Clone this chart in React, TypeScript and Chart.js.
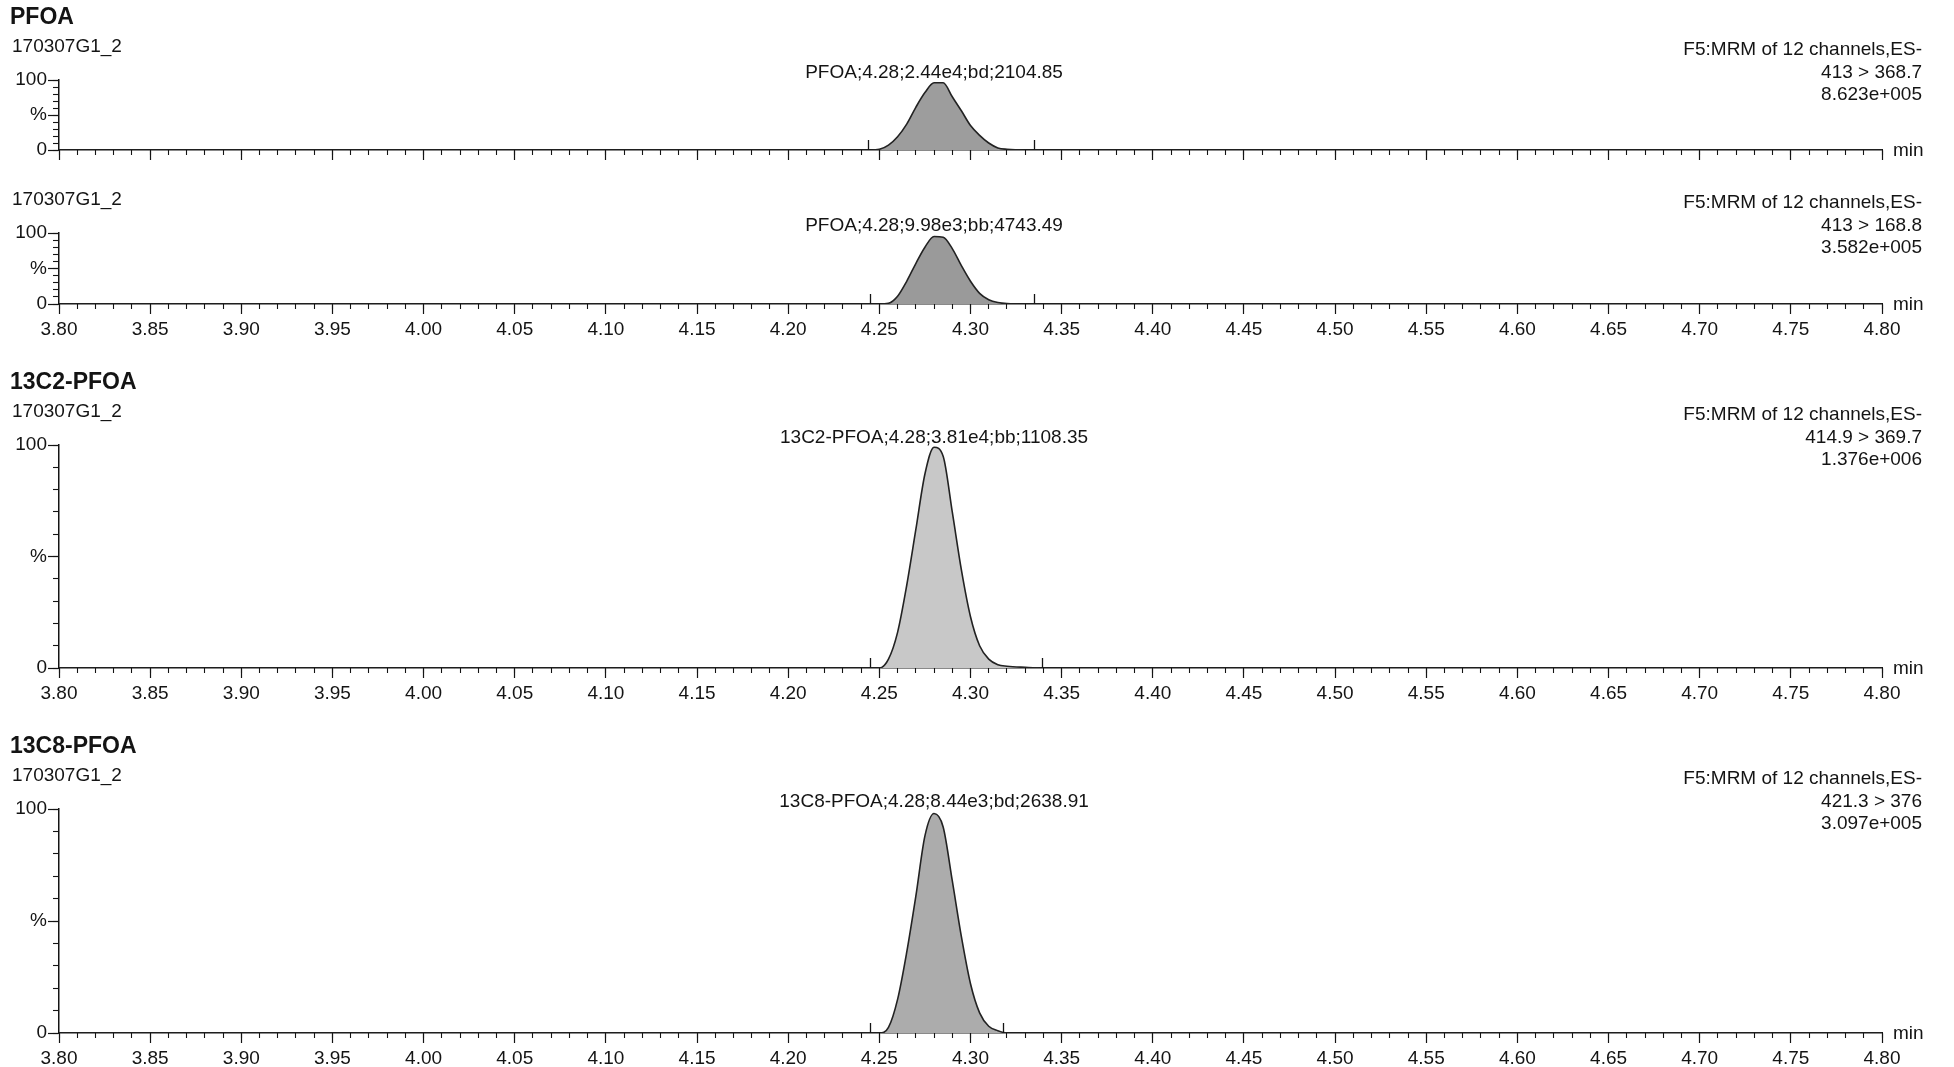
import React, { useEffect, useRef } from "react";
import { Chart, registerables } from "chart.js";

Chart.register(...registerables);

// ---------- data ----------
const X_MIN = 3.8;
const X_MAX = 4.8;
const MAJOR_STEP = 0.05;
const MINOR_STEP = 0.01;

const sampleName = "170307G1_2";
const infoHeader = "F5:MRM of 12 channels,ES-";

// Panel 1: PFOA 413 > 368.7
const pfoa1Times = [3.8, 4.245, 4.25, 4.255, 4.26, 4.265, 4.27, 4.275, 4.28, 4.285, 4.29, 4.295, 4.3, 4.305, 4.31, 4.315, 4.32, 4.33, 4.8];
const pfoa1Values = [0, 0, 1, 7, 19, 37, 61, 82, 96, 96, 76, 56, 35, 21, 10, 3, 1, 0, 0];
const pfoa1Markers = [4.244, 4.335];

// Panel 2: PFOA 413 > 168.8
const pfoa2Times = [3.8, 4.245, 4.25, 4.255, 4.26, 4.265, 4.27, 4.275, 4.28, 4.285, 4.29, 4.295, 4.3, 4.305, 4.31, 4.315, 4.32, 4.33, 4.8];
const pfoa2Values = [0, 0, 0, 1, 11, 32, 57, 80, 95, 94, 78, 54, 32, 15, 6, 2, 0.5, 0, 0];
const pfoa2Markers = [4.245, 4.335];

// Panel 3: 13C2-PFOA 414.9 > 369.7
const c2Times = [3.8, 4.245, 4.25, 4.255, 4.26, 4.265, 4.27, 4.275, 4.28, 4.285, 4.29, 4.295, 4.3, 4.305, 4.31, 4.315, 4.32, 4.33, 4.34, 4.8];
const c2Values = [0, 0, 0, 4, 16, 37, 62, 87, 99, 95, 70, 44, 23, 10, 4, 1.5, 0.8, 0.3, 0, 0];
const c2Markers = [4.245, 4.339];

// Panel 4: 13C8-PFOA 421.3 > 376
const c8Times = [3.8, 4.245, 4.25, 4.255, 4.26, 4.265, 4.27, 4.275, 4.28, 4.285, 4.29, 4.295, 4.3, 4.305, 4.31, 4.315, 4.32, 4.8];
const c8Values = [0, 0, 0, 2.5, 15, 36, 61, 88, 98, 92, 68, 43, 22, 9, 3, 1, 0, 0];
const c8Markers = [4.245, 4.318];

// ---------- styling ----------
const FONT = "'Liberation Sans', Arial, Helvetica, sans-serif";
const INK = "#141414";
const LEFT_W = 59;

type PanelCfg = {
  top: number;
  height: number;
  padTop: number;
  padBottom: number;
  title?: string;
  info: string[];
  peakLabel: string;
  peakTime: number;
  times: number[];
  values: number[];
  markers: number[];
  showXLabels: boolean;
  fill: string;
};

const panels: PanelCfg[] = [
  {
    top: 0, height: 172, padTop: 80, padBottom: 22,
    title: "PFOA",
    info: [infoHeader, "413 > 368.7", "8.623e+005"],
    peakLabel: "PFOA;4.28;2.44e4;bd;2104.85", peakTime: 4.28,
    times: pfoa1Times, values: pfoa1Values, markers: pfoa1Markers,
    showXLabels: false, fill: "#9d9d9d",
  },
  {
    top: 172, height: 170, padTop: 61, padBottom: 38,
    info: [infoHeader, "413 > 168.8", "3.582e+005"],
    peakLabel: "PFOA;4.28;9.98e3;bb;4743.49", peakTime: 4.28,
    times: pfoa2Times, values: pfoa2Values, markers: pfoa2Markers,
    showXLabels: true, fill: "#9a9a9a",
  },
  {
    top: 342, height: 365, padTop: 103, padBottom: 39,
    title: "13C2-PFOA",
    info: [infoHeader, "414.9 > 369.7", "1.376e+006"],
    peakLabel: "13C2-PFOA;4.28;3.81e4;bb;1108.35", peakTime: 4.28,
    times: c2Times, values: c2Values, markers: c2Markers,
    showXLabels: true, fill: "#c8c8c8",
  },
  {
    top: 707, height: 360, padTop: 102, padBottom: 34,
    title: "13C8-PFOA",
    info: [infoHeader, "421.3 > 376", "3.097e+005"],
    peakLabel: "13C8-PFOA;4.28;8.44e3;bd;2638.91", peakTime: 4.28,
    times: c8Times, values: c8Values, markers: c8Markers,
    showXLabels: true, fill: "#acacac",
  },
];

const panelTextPlugin = {
  id: "panelText",
  afterDraw(chart: any, _args: any, opts: any) {
    const ctx: CanvasRenderingContext2D = chart.ctx;
    const area = chart.chartArea;
    const xs = chart.scales.x;
    ctx.save();
    // integration markers
    ctx.strokeStyle = INK;
    ctx.lineWidth = 1.3;
    (opts.markers as number[]).forEach((t) => {
      const px = Math.round(xs.getPixelForValue(t)) + 0.5;
      ctx.beginPath();
      ctx.moveTo(px, area.bottom);
      ctx.lineTo(px, area.bottom - 10);
      ctx.stroke();
    });
    ctx.fillStyle = INK;
    ctx.textBaseline = "middle";
    if (opts.title) {
      ctx.font = `bold 23px ${FONT}`;
      ctx.textAlign = "left";
      ctx.fillText(opts.title, 10, area.top - 62);
    }
    ctx.font = `19px ${FONT}`;
    ctx.textAlign = "left";
    ctx.fillText(opts.sample, 12, area.top - 33);
    ctx.textAlign = "right";
    const infoY = [area.top - 30, area.top - 7.5, area.top + 15];
    (opts.info as string[]).forEach((s, i) => ctx.fillText(s, area.right + 40, infoY[i]));
    ctx.textAlign = "center";
    ctx.fillText(opts.peakLabel, xs.getPixelForValue(opts.peakTime), area.top - 7);
    ctx.textAlign = "left";
    ctx.fillText("min", area.right + 11, area.bottom + 1);
    ctx.restore();
  },
};

function Panel({ cfg }: { cfg: PanelCfg }) {
  const ref = useRef<HTMLCanvasElement>(null);
  useEffect(() => {
    const canvas = ref.current!;
    const data = cfg.times.map((t, i) => ({ x: t, y: cfg.values[i] }));
    const chart = new Chart(canvas, {
      type: "line",
      data: {
        datasets: [
          {
            data,
            xAxisID: "x",
            yAxisID: "y",
            borderColor: "#222222",
            borderWidth: 1.6,
            backgroundColor: cfg.fill,
            fill: "origin",
            pointRadius: 0,
            cubicInterpolationMode: "monotone",
          } as any,
        ],
      },
      options: {
        responsive: false,
        animation: false,
        events: [],
        layout: { padding: { left: 0, right: 72, top: cfg.padTop, bottom: 0 } },
        plugins: {
          legend: { display: false },
          tooltip: { enabled: false },
          title: { display: false },
          panelText: {
            title: cfg.title,
            sample: sampleName,
            info: cfg.info,
            peakLabel: cfg.peakLabel,
            peakTime: cfg.peakTime,
            markers: cfg.markers,
          },
        } as any,
        scales: {
          x: {
            type: "linear",
            position: "bottom",
            weight: 1,
            min: X_MIN,
            max: X_MAX,
            afterFit: (s: any) => { s.height = cfg.padBottom; },
            grid: { drawOnChartArea: false, drawTicks: true, tickLength: 10, tickColor: INK, tickWidth: 1.2 },
            border: { display: true, color: INK, width: 1.5 },
            ticks: {
              display: cfg.showXLabels,
              stepSize: MAJOR_STEP,
              autoSkip: false,
              maxRotation: 0,
              minRotation: 0,
              padding: 4,
              color: INK,
              font: { family: FONT, size: 19 },
              callback: (v: any) => Number(v).toFixed(2),
            },
          },
          xMinor: {
            type: "linear",
            position: "bottom",
            weight: 0,
            min: X_MIN,
            max: X_MAX,
            afterFit: (s: any) => { s.height = 0; },
            grid: { drawOnChartArea: false, drawTicks: true, tickLength: 5, tickColor: INK, tickWidth: 1.1 },
            border: { display: false },
            ticks: { display: false, stepSize: MINOR_STEP, autoSkip: false },
          },
          y: {
            type: "linear",
            position: "left",
            weight: 1,
            min: 0,
            max: 100,
            afterFit: (s: any) => { s.width = LEFT_W; },
            grid: { drawOnChartArea: false, drawTicks: true, tickLength: 11, tickColor: INK, tickWidth: 1.2 },
            border: { display: true, color: INK, width: 1.5 },
            ticks: {
              stepSize: 50,
              autoSkip: false,
              padding: 1,
              color: INK,
              font: { family: FONT, size: 19 },
              callback: (v: any) => (v === 100 ? "100" : v === 50 ? "%" : v === 0 ? "0" : ""),
            },
          },
          yMinor: {
            type: "linear",
            position: "left",
            weight: 0,
            min: 0,
            max: 100,
            afterFit: (s: any) => { s.width = 0; },
            grid: { drawOnChartArea: false, drawTicks: true, tickLength: 6, tickColor: INK, tickWidth: 1.1 },
            border: { display: false },
            ticks: { display: false, stepSize: 10, autoSkip: false },
          },
        } as any,
      },
      plugins: [panelTextPlugin as any],
    });
    return () => chart.destroy();
  }, [cfg]);
  return (
    <canvas
      ref={ref}
      width={1954}
      height={cfg.height}
      style={{ position: "absolute", left: 0, top: cfg.top, width: 1954, height: cfg.height }}
    />
  );
}

export default function App() {
  return (
    <div
      style={{
        position: "fixed",
        left: 0,
        top: 0,
        width: 1954,
        height: 1067,
        background: "#ffffff",
        overflow: "hidden",
      }}
    >
      {panels.map((p, i) => (
        <Panel key={i} cfg={p} />
      ))}
    </div>
  );
}
